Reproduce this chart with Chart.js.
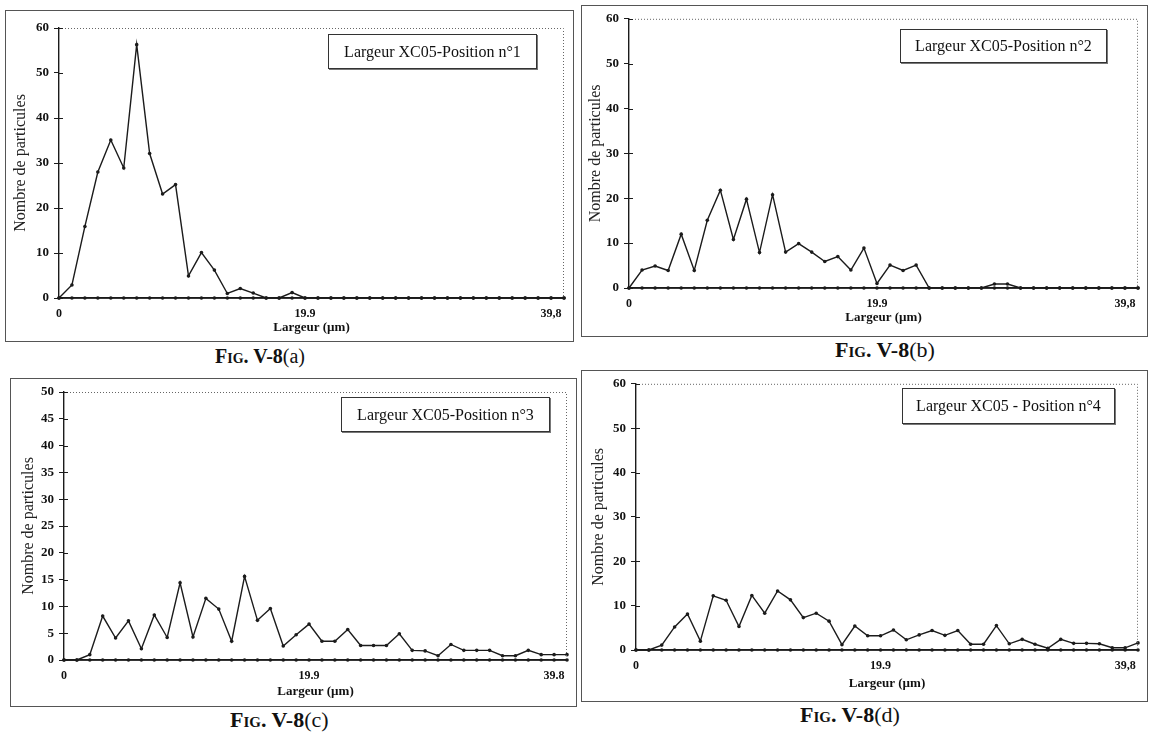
<!DOCTYPE html>
<html>
<head>
<meta charset="utf-8">
<script src="https://cdn.jsdelivr.net/npm/chart.js@4.4.0/dist/chart.umd.min.js"></script>
<style>
  body { margin: 0; background: #fff; width: 1149px; height: 735px; position: relative; overflow: hidden; font-family: "Liberation Serif", "DejaVu Serif", serif; color: #111; }
  .panel { position: absolute; border: 1px solid #555; }
  .panel canvas { position: absolute; left: 0; top: 0; }
  .tag { position: absolute; border: 1px solid #333; box-shadow: 1px 1px 0 #777; background: #fff; font-size: 16px; display: flex; align-items: center; justify-content: center; white-space: nowrap; }
  .caption { position: absolute; font-weight: bold; white-space: nowrap; }
  .caption .sc { font-variant: small-caps; }
  .caption .n { font-weight: normal; }
</style>
</head>
<body>

<div class="panel" style="left:5px;top:10px;width:567px;height:330px"><canvas id="chartA" width="567" height="330"></canvas></div>
<div class="panel" style="left:581px;top:5px;width:565px;height:330px"><canvas id="chartB" width="565" height="330"></canvas></div>
<div class="panel" style="left:10px;top:378px;width:565px;height:327px"><canvas id="chartC" width="565" height="327"></canvas></div>
<div class="panel" style="left:581px;top:370px;width:565px;height:330px"><canvas id="chartD" width="565" height="330"></canvas></div>

<div class="tag" style="left:328px;top:34px;width:207px;height:33px">Largeur XC05-Position n°1</div>
<div class="tag" style="left:900px;top:29px;width:205px;height:32px">Largeur XC05-Position n°2</div>
<div class="tag" style="left:341px;top:397px;width:207px;height:33px">Largeur XC05-Position n°3</div>
<div class="tag" style="left:902px;top:388px;width:211px;height:34px">Largeur XC05 - Position n°4</div>

<div class="caption" style="left:215px;top:345px;font-size:20px"><span class="sc">Fig.</span> V-8<span class="n">(a)</span></div>
<div class="caption" style="left:835px;top:337px;font-size:22px"><span class="sc">Fig.</span> V-8<span class="n">(b)</span></div>
<div class="caption" style="left:230px;top:707px;font-size:22px"><span class="sc">Fig.</span> V-8<span class="n">(c)</span></div>
<div class="caption" style="left:800px;top:702px;font-size:22px"><span class="sc">Fig.</span> V-8<span class="n">(d)</span></div>

<script>
// particle counts per width class (40 classes, 0 -> 39.8 µm)
const countsA = [0, 2.9, 15.9, 28, 35.1, 28.9, 56.3, 32.1, 23.1, 25.2, 4.9, 10.1, 6.2, 1, 2.1, 1.1, 0, 0, 1.2, 0,
  0, 0, 0, 0, 0, 0, 0, 0, 0, 0, 0, 0, 0, 0, 0, 0, 0, 0, 0, 0];
const countsB = [0, 4, 4.9, 3.9, 12, 3.9, 15.1, 21.8, 10.8, 19.8, 7.9, 20.8, 8, 9.9, 8, 5.9, 7, 4, 8.9, 1,
  5.1, 3.9, 5.1, 0, 0, 0, 0, 0, 0.9, 0.9, 0, 0, 0, 0, 0, 0, 0, 0, 0, 0];
const countsC = [0, 0, 1, 8.2, 4.1, 7.3, 2.1, 8.4, 4.2, 14.4, 4.3, 11.5, 9.5, 3.5, 15.6, 7.4, 9.6, 2.6, 4.7, 6.7,
  3.5, 3.5, 5.7, 2.7, 2.7, 2.7, 4.9, 1.8, 1.7, 0.8, 2.9, 1.8, 1.8, 1.8, 0.8, 0.8, 1.8, 1, 1, 1];
const countsD = [0, 0, 1.1, 5.2, 8.1, 2, 12.2, 11.2, 5.3, 12.3, 8.3, 13.3, 11.3, 7.3, 8.3, 6.5, 1.2, 5.4, 3.2, 3.2,
  4.5, 2.3, 3.4, 4.4, 3.3, 4.4, 1.3, 1.3, 5.5, 1.4, 2.4, 1.3, 0.4, 2.4, 1.5, 1.5, 1.4, 0.5, 0.5, 1.6];
// second (empty) series drawn along the axis
const zeroLine = [0, 0, 0, 0, 0, 0, 0, 0, 0, 0, 0, 0, 0, 0, 0, 0, 0, 0, 0, 0,
  0, 0, 0, 0, 0, 0, 0, 0, 0, 0, 0, 0, 0, 0, 0, 0, 0, 0, 0, 0];

const classes = countsA.map((_, i) => i);
const labelClasses = [0, 19, 38];
const xTicksComma = ["0", "19.9", "39,8"];
const xTicksDot = ["0", "19.9", "39.8"];

const ink = "#1b1b1b";
Chart.defaults.font.family = "'Liberation Serif', 'DejaVu Serif', serif";
Chart.defaults.color = "#111";

const dottedFrame = {
  id: "dottedFrame",
  afterDraw(chart) {
    const { ctx, chartArea: a } = chart;
    ctx.save();
    ctx.strokeStyle = "#666";
    ctx.lineWidth = 1;
    ctx.setLineDash([1, 2]);
    ctx.beginPath();
    ctx.moveTo(a.left + 6, a.top + 0.5);
    ctx.lineTo(a.right - 0.5, a.top + 0.5);
    ctx.lineTo(a.right - 0.5, a.bottom - 2);
    ctx.stroke();
    // small tick marks crossing the y axis
    ctx.setLineDash([]);
    ctx.strokeStyle = ink;
    const y = chart.scales.y;
    y.ticks.forEach((t) => {
      const py = Math.round(y.getPixelForValue(t.value)) + 0.5;
      ctx.beginPath();
      ctx.moveTo(a.left, py);
      ctx.lineTo(a.left + 4, py);
      ctx.stroke();
    });
    ctx.restore();
  },
};

function series(data) {
  return {
    data,
    borderColor: ink,
    borderWidth: 1.4,
    pointRadius: 1.8,
    pointBackgroundColor: ink,
    pointBorderWidth: 0,
    tension: 0,
    clip: 4,
  };
}

function makeChart(id, counts, xTicks, yMax, yStep, box) {
  return new Chart(document.getElementById(id), {
    type: "line",
    data: { labels: classes, datasets: [series(counts), series(zeroLine)] },
    options: {
      responsive: false,
      animation: false,
      layout: { padding: { left: 0, top: box.top, right: box.right, bottom: box.bottom } },
      plugins: { legend: { display: false }, tooltip: { enabled: false } },
      scales: {
        x: {
          grid: { display: false, drawTicks: false },
          border: { display: true, color: ink, width: 1.4 },
          ticks: {
            autoSkip: false,
            maxRotation: 0,
            padding: 9,
            font: { size: 12, weight: "bold" },
            callback: (v, i) => {
              const k = labelClasses.indexOf(i);
              return k >= 0 ? xTicks[k] : "";
            },
          },
          title: { display: true, text: "Largeur (µm)", font: { size: 13, weight: "bold" }, padding: { top: 0, bottom: 0 } },
          afterFit: (s) => { s.height = box.xh; },
        },
        y: {
          min: 0,
          max: yMax,
          ticks: { stepSize: yStep, font: { size: 13, weight: "bold" }, padding: 5 },
          grid: { drawOnChartArea: false, tickLength: 5, color: ink },
          border: { color: ink, width: 1.4 },
          title: { display: true, text: "Nombre de particules", font: { size: 16 }, color: "#222", padding: { top: box.tp, bottom: 0 } },
          afterFit: (s) => { s.width = box.yw; },
        },
      },
    },
    plugins: [dottedFrame],
  });
}

makeChart("chartA", countsA, xTicksComma, 60, 10, { top: 17, right: 5, bottom: 6, yw: 53, xh: 37, tp: 5 });
makeChart("chartB", countsB, xTicksComma, 60, 10, { top: 12, right: 7, bottom: 11, yw: 47, xh: 37, tp: 4 });
makeChart("chartC", countsC, xTicksDot, 50, 5, { top: 13, right: 5, bottom: 7, yw: 53, xh: 39, tp: 8 });
makeChart("chartD", countsD, xTicksComma, 60, 10, { top: 11, right: 2, bottom: 10, yw: 54, xh: 41, tp: 7 });
</script>
</body>
</html>
